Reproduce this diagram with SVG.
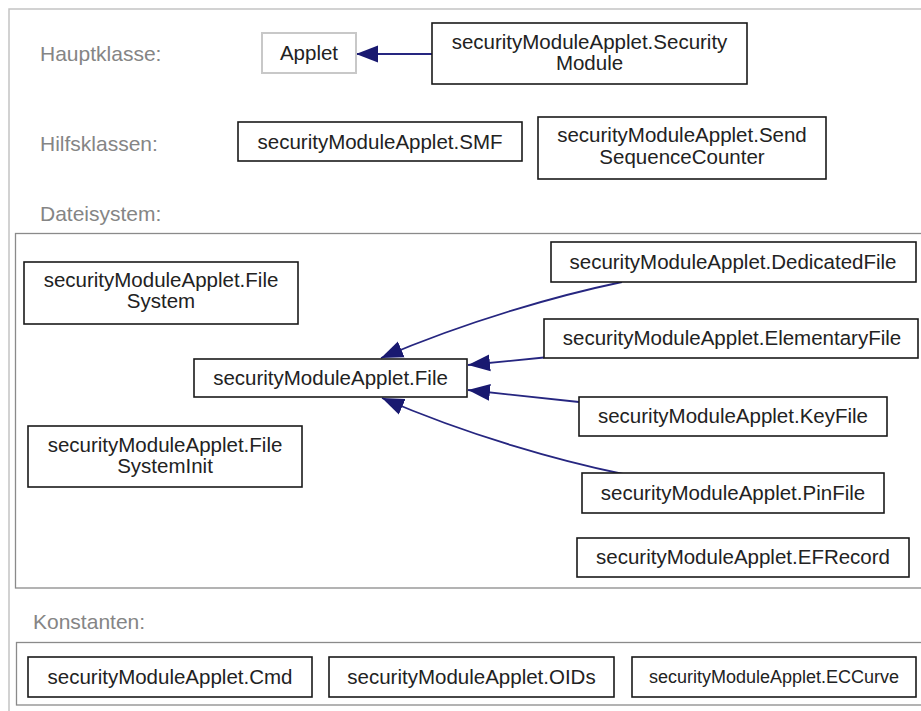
<svg xmlns="http://www.w3.org/2000/svg" width="921" height="711" viewBox="0 0 921 711">
<style>
.bg{fill:#ffffff}
.frame{fill:none;stroke:#c4c4c4;stroke-width:1.5}
.sub{fill:none;stroke:#8a8a8a;stroke-width:1.3}
.box{fill:#ffffff;stroke:#1a1a1a;stroke-width:1.6}
.lbox{fill:#ffffff;stroke:#c8c8c8;stroke-width:2}
.t{font-family:"Liberation Sans",Arial,sans-serif;font-size:20.5px;fill:#222222;text-anchor:middle}
.small{font-size:18px}
.lab{font-family:"Liberation Sans",Arial,sans-serif;font-size:21px;fill:#858585}
.edge{fill:none;stroke:#262680;stroke-width:1.8}
</style>
<defs>
<marker id="arr" markerUnits="userSpaceOnUse" markerWidth="24" markerHeight="18" refX="22" refY="9" orient="auto" viewBox="0 0 24 18">
<path d="M0,0.5 L22,9 L0,17.5 z" fill="#191970"/>
</marker>
</defs>
<rect class="bg" x="0" y="0" width="921" height="711"/>
<path class="frame" d="M9,712 L9,9 L922,9"/>
<text class="lab" x="40" y="61">Hauptklasse:</text>
<text class="lab" x="40" y="151">Hilfsklassen:</text>
<text class="lab" x="40" y="221">Dateisystem:</text>
<text class="lab" x="33" y="629">Konstanten:</text>
<rect class="sub" x="15.5" y="233.5" width="910" height="354.5"/>
<rect class="sub" x="16.5" y="642.5" width="910" height="62.5"/>
<g id="edges">
<path class="edge" d="M432,54 L356,54" marker-end="url(#arr)"/>
<path class="edge" d="M622,282 C560,295 470,320 381,358" marker-end="url(#arr)"/>
<path class="edge" d="M544,357.5 L468,365" marker-end="url(#arr)"/>
<path class="edge" d="M579,402 L468,390" marker-end="url(#arr)"/>
<path class="edge" d="M623,474 C560,461 470,436 382,398" marker-end="url(#arr)"/>
</g>
<g id="applet"><rect class="lbox" x="262" y="33" width="94" height="40"/><text class="t" x="309" y="60">Applet</text></g>
<g id="securityModule"><rect class="box" x="432" y="23" width="315" height="61"/><text class="t" x="589.5" y="49">securityModuleApplet.Security</text><text class="t" x="589.5" y="70">Module</text></g>
<g id="smf"><rect class="box" x="238" y="122" width="284" height="39"/><text class="t" x="380" y="149">securityModuleApplet.SMF</text></g>
<g id="ssc"><rect class="box" x="538" y="117" width="288" height="62"/><text class="t" x="682" y="142">securityModuleApplet.Send</text><text class="t" x="682" y="164">SequenceCounter</text></g>
<g id="fileSystem"><rect class="box" x="24" y="262" width="274" height="62"/><text class="t" x="161" y="287">securityModuleApplet.File</text><text class="t" x="161" y="308">System</text></g>
<g id="file"><rect class="box" x="194" y="359" width="273" height="38"/><text class="t" x="330.5" y="385">securityModuleApplet.File</text></g>
<g id="fileSystemInit"><rect class="box" x="28" y="426" width="274" height="61"/><text class="t" x="165" y="452">securityModuleApplet.File</text><text class="t" x="165" y="473">SystemInit</text></g>
<g id="dedicatedFile"><rect class="box" x="551" y="242" width="365" height="40"/><text class="t" x="733" y="269">securityModuleApplet.DedicatedFile</text></g>
<g id="elementaryFile"><rect class="box" x="544" y="319" width="374" height="39"/><text class="t" x="732" y="345">securityModuleApplet.ElementaryFile</text></g>
<g id="keyFile"><rect class="box" x="579" y="397" width="308" height="39"/><text class="t" x="733" y="423">securityModuleApplet.KeyFile</text></g>
<g id="pinFile"><rect class="box" x="582" y="473" width="302" height="40"/><text class="t" x="733" y="500">securityModuleApplet.PinFile</text></g>
<g id="efRecord"><rect class="box" x="577" y="538" width="332" height="39"/><text class="t" x="743" y="564">securityModuleApplet.EFRecord</text></g>
<g id="cmd"><rect class="box" x="28" y="657" width="284" height="40"/><text class="t" x="170" y="684">securityModuleApplet.Cmd</text></g>
<g id="oids"><rect class="box" x="329" y="657" width="285" height="40"/><text class="t" x="471.5" y="684">securityModuleApplet.OIDs</text></g>
<g id="ecCurve"><rect class="box" x="632" y="657" width="284" height="40"/><text class="t small" x="774" y="683">securityModuleApplet.ECCurve</text></g>
</svg>
